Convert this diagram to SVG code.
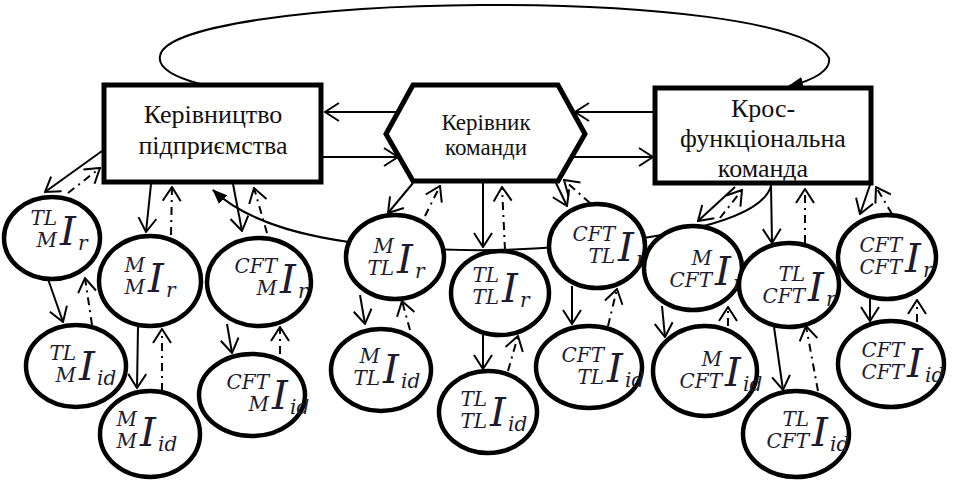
<svg xmlns="http://www.w3.org/2000/svg" width="956" height="482" viewBox="0 0 956 482">
<style>
.box{fill:#fff;stroke:#000;stroke-width:5}
.el{fill:#fff;stroke:#000;stroke-width:4.5}
.lbl{font-size:26px;fill:#111;text-anchor:middle}
.lbl2{font-size:23px;fill:#111;text-anchor:middle}
.big{font-style:italic;font-size:40px;fill:#1c1c30}
.sc{font-style:italic;font-size:20px;fill:#1c1c30}
.pre{text-anchor:end}
.s{fill:none;stroke:#000;stroke-width:2;marker-end:url(#ao)}
.d{fill:none;stroke:#000;stroke-width:2;stroke-dasharray:8 5 2 5;marker-end:url(#ao)}
.c{fill:none;stroke:#000;stroke-width:2;marker-end:url(#af)}
</style>
<defs>
<marker id="ao" viewBox="0 0 16 20" refX="15" refY="10" markerWidth="16" markerHeight="20" markerUnits="userSpaceOnUse" orient="auto"><path d="M1,1 L15,10 L1,19" fill="none" stroke="#000" stroke-width="2"/></marker>
<marker id="af" viewBox="0 0 15 12" refX="14" refY="6" markerWidth="15" markerHeight="12" markerUnits="userSpaceOnUse" orient="auto"><path d="M0,0 L15,6 L0,12 z" fill="#000"/></marker>
</defs>
<rect width="956" height="482" fill="#fff"/>

<g id="connectors-back">
<path class="c" d="M200,84 C170,76 158,66 160,56 C165,25 320,6 480,5 C640,4 810,20 829,58 C831,70 815,80 789,86"/>
<path class="c" d="M771,186 C760,225 640,245 500,250 C360,252 260,235 213,190"/>
</g>

<g font-family="Liberation Serif, Times New Roman, serif">
<g id="n-management">
<rect class="box" x="104" y="85" width="217" height="97"/>
<text class="lbl" x="213" y="123">Керівництво</text>
<text class="lbl" x="213" y="154">підприємства</text>
</g>
<g id="n-teamlead">
<polygon class="box" points="413,85 558,85 585,134 558,181 413,181 386,134"/>
<text class="lbl2" x="486" y="130">Керівник</text>
<text class="lbl2" x="486" y="155">команди</text>
</g>
<g id="n-cft">
<rect class="box" x="655" y="88" width="216" height="95"/>
<text class="lbl" x="763" y="117">Крос-</text>
<text class="lbl" x="763" y="147">функціональна</text>
<text class="lbl" x="763" y="177">команда</text>
</g>
</g>

<g font-family="DejaVu Serif, serif">
<g id="e1"><ellipse class="el" cx="52" cy="238" rx="48" ry="41"/><text class="sc pre" x="57" y="225">TL</text><text class="sc pre" x="57" y="247">M</text><text class="big" x="60" y="245">I</text><text class="sc" x="78" y="250">r</text></g>
<g id="e2"><ellipse class="el" cx="150" cy="281" rx="51" ry="45"/><text class="sc pre" x="145" y="272">M</text><text class="sc pre" x="145" y="294">M</text><text class="big" x="148" y="292">I</text><text class="sc" x="166" y="297">r</text></g>
<g id="e3"><ellipse class="el" cx="259" cy="282" rx="52" ry="44"/><text class="sc pre" x="277" y="273">CFT</text><text class="sc pre" x="277" y="295">M</text><text class="big" x="280" y="293">I</text><text class="sc" x="298" y="298">r</text></g>
<g id="e4"><ellipse class="el" cx="76" cy="366" rx="50" ry="41"/><text class="sc pre" x="76" y="360">TL</text><text class="sc pre" x="76" y="382">M</text><text class="big" x="79" y="380">I</text><text class="sc" x="97" y="385">id</text></g>
<g id="e5"><ellipse class="el" cx="150" cy="434" rx="50" ry="43"/><text class="sc pre" x="137" y="426">M</text><text class="sc pre" x="137" y="448">M</text><text class="big" x="140" y="446">I</text><text class="sc" x="158" y="451">id</text></g>
<g id="e6"><ellipse class="el" cx="252" cy="395" rx="53" ry="41"/><text class="sc pre" x="269" y="389">CFT</text><text class="sc pre" x="269" y="411">M</text><text class="big" x="272" y="409">I</text><text class="sc" x="290" y="414">id</text></g>

<g id="e7"><ellipse class="el" cx="395" cy="257" rx="49" ry="42"/><text class="sc pre" x="394" y="253">M</text><text class="sc pre" x="394" y="275">TL</text><text class="big" x="397" y="273">I</text><text class="sc" x="415" y="278">r</text></g>
<g id="e8"><ellipse class="el" cx="500" cy="293" rx="49" ry="42"/><text class="sc pre" x="499" y="282">TL</text><text class="sc pre" x="499" y="304">TL</text><text class="big" x="502" y="302">I</text><text class="sc" x="520" y="307">r</text></g>
<g id="e9"><ellipse class="el" cx="597" cy="246" rx="48" ry="42"/><text class="sc pre" x="615" y="241">CFT</text><text class="sc pre" x="615" y="263">TL</text><text class="big" x="618" y="261">I</text><text class="sc" x="636" y="266">r</text></g>
<g id="e10"><ellipse class="el" cx="381" cy="370" rx="50" ry="41"/><text class="sc pre" x="380" y="363">M</text><text class="sc pre" x="380" y="385">TL</text><text class="big" x="383" y="383">I</text><text class="sc" x="401" y="388">id</text></g>
<g id="e11"><ellipse class="el" cx="488" cy="412" rx="49" ry="41"/><text class="sc pre" x="487" y="406">TL</text><text class="sc pre" x="487" y="428">TL</text><text class="big" x="490" y="426">I</text><text class="sc" x="508" y="431">id</text></g>
<g id="e12"><ellipse class="el" cx="589" cy="367" rx="53" ry="41"/><text class="sc pre" x="604" y="362">CFT</text><text class="sc pre" x="604" y="384">TL</text><text class="big" x="607" y="382">I</text><text class="sc" x="625" y="387">id</text></g>

<g id="e13"><ellipse class="el" cx="693" cy="268" rx="49" ry="42"/><text class="sc pre" x="712" y="265">M</text><text class="sc pre" x="712" y="287">CFT</text><text class="big" x="715" y="285">I</text><text class="sc" x="733" y="290">r</text></g>
<g id="e14"><ellipse class="el" cx="789" cy="285" rx="50" ry="42"/><text class="sc pre" x="805" y="281">TL</text><text class="sc pre" x="805" y="303">CFT</text><text class="big" x="808" y="301">I</text><text class="sc" x="826" y="306">r</text></g>
<g id="e15"><ellipse class="el" cx="887" cy="257" rx="49" ry="42"/><text class="sc pre" x="902" y="252">CFT</text><text class="sc pre" x="902" y="274">CFT</text><text class="big" x="905" y="272">I</text><text class="sc" x="923" y="277">r</text></g>
<g id="e16"><ellipse class="el" cx="705" cy="371" rx="52" ry="45"/><text class="sc pre" x="722" y="366">M</text><text class="sc pre" x="722" y="388">CFT</text><text class="big" x="725" y="386">I</text><text class="sc" x="743" y="391">id</text></g>
<g id="e17"><ellipse class="el" cx="796" cy="434" rx="53" ry="43"/><text class="sc pre" x="809" y="426">TL</text><text class="sc pre" x="809" y="448">CFT</text><text class="big" x="812" y="446">I</text><text class="sc" x="830" y="451">id</text></g>
<g id="e18"><ellipse class="el" cx="891" cy="364" rx="53" ry="43"/><text class="sc pre" x="904" y="357">CFT</text><text class="sc pre" x="904" y="379">CFT</text><text class="big" x="907" y="377">I</text><text class="sc" x="925" y="382">id</text></g>
</g>

<g id="connectors">
<line class="s" x1="398" y1="112" x2="325" y2="112"/>
<line class="s" x1="323" y1="157" x2="398" y2="157"/>
<line class="s" x1="653" y1="112" x2="575" y2="112"/>
<line class="s" x1="572" y1="157" x2="653" y2="157"/>

<line class="s" x1="102" y1="151" x2="45" y2="192"/>
<line class="d" x1="68" y1="193" x2="100" y2="168"/>
<line class="s" x1="151" y1="184" x2="146" y2="232"/>
<line class="d" x1="171" y1="235" x2="172" y2="187"/>
<line class="s" x1="233" y1="184" x2="242" y2="231"/>
<line class="d" x1="267" y1="233" x2="254" y2="188"/>
<line class="s" x1="48" y1="279" x2="63" y2="322"/>
<line class="d" x1="92" y1="325" x2="85" y2="278"/>
<line class="s" x1="138" y1="326" x2="137" y2="388"/>
<line class="d" x1="162" y1="391" x2="162" y2="329"/>
<line class="s" x1="227" y1="324" x2="232" y2="353"/>
<line class="d" x1="280" y1="354" x2="280" y2="327"/>

<line class="s" x1="413" y1="183" x2="388" y2="213"/>
<line class="d" x1="425" y1="216" x2="440" y2="186"/>
<line class="s" x1="483" y1="183" x2="483" y2="247"/>
<line class="d" x1="505" y1="250" x2="502" y2="187"/>
<line class="s" x1="556" y1="183" x2="567" y2="206"/>
<line class="d" x1="590" y1="203" x2="564" y2="180"/>
<line class="s" x1="360" y1="295" x2="365" y2="324"/>
<line class="d" x1="410" y1="330" x2="402" y2="301"/>
<line class="s" x1="483" y1="335" x2="483" y2="369"/>
<line class="d" x1="508" y1="371" x2="518" y2="336"/>
<line class="s" x1="572" y1="286" x2="572" y2="324"/>
<line class="d" x1="608" y1="326" x2="617" y2="289"/>

<line class="s" x1="735" y1="187" x2="698" y2="221"/>
<line class="d" x1="720" y1="218" x2="742" y2="190"/>
<line class="s" x1="771" y1="185" x2="772" y2="243"/>
<line class="d" x1="805" y1="243" x2="805" y2="189"/>
<line class="s" x1="870" y1="185" x2="860" y2="214"/>
<line class="d" x1="892" y1="214" x2="876" y2="187"/>
<line class="s" x1="662" y1="306" x2="665" y2="337"/>
<line class="d" x1="728" y1="326" x2="728" y2="307"/>
<line class="s" x1="774" y1="327" x2="783" y2="390"/>
<line class="d" x1="818" y1="391" x2="806" y2="326"/>
<line class="s" x1="870" y1="299" x2="870" y2="321"/>
<line class="d" x1="917" y1="322" x2="917" y2="300"/>
</g>
</svg>
